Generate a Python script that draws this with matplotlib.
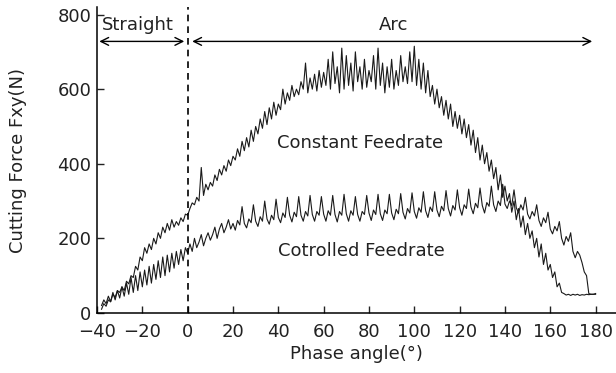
import numpy as np
import matplotlib
matplotlib.use("Agg")
import matplotlib.pyplot as plt

plt.rcParams['font.family'] = ['DejaVu Sans']

angle = list(range(-38, 181))

constant_feed = [
    10, 25, 18, 35, 30, 50, 42, 60, 55,
    70, 60, 85, 78, 100, 95, 125, 115, 150, 140,
    175, 160, 185, 170, 200, 185, 215, 200, 230, 215,
    240, 222, 250, 230, 245, 235, 255, 245, 265, 262,
    280, 295, 290, 310, 300, 390, 315, 345, 330, 350,
    340, 370, 355, 385, 370, 395, 380, 410, 395, 420,
    410, 440, 420, 460, 435, 470, 445, 490, 460, 500,
    480, 520, 495, 540, 505, 550, 520, 565, 530, 560,
    545, 600, 560, 590, 570, 610, 580, 600, 585, 620,
    600, 670, 590, 630, 600, 640, 595, 650, 605, 645,
    610, 680, 600, 700, 615, 660, 590, 710, 600, 690,
    610, 670, 595, 700, 620, 660, 600, 680, 605, 650,
    620, 690, 600, 710, 610, 670, 590, 660, 605, 680,
    600, 650, 610, 690, 620, 660, 615, 700, 620, 715,
    610, 680, 600, 670, 590, 650, 580, 610, 560, 600,
    550, 580, 530, 570, 520, 560, 500, 540, 495, 530,
    480, 520, 470, 505, 450, 490, 430, 470, 410, 450,
    400, 430, 380, 410, 360, 390, 330, 370, 310, 340,
    300, 320, 270, 300, 250, 280, 230, 260, 210, 240,
    200, 220, 175, 200, 150, 185, 130, 160, 115, 130,
    95, 110, 70, 80, 55, 52, 48, 50, 47, 50,
    48, 50, 47, 49, 48, 50, 49, 50, 50, 52,
]

controlled_feed = [
    20, 35, 25, 45, 30, 55, 35, 60, 40,
    70, 45, 80, 50, 95, 55, 100, 60, 110, 70,
    115, 75, 125, 80, 130, 90, 140, 95, 150, 100,
    155, 110, 160, 120, 165, 130, 170, 140, 175, 160,
    185, 165, 200, 175, 190, 210, 180, 200, 215, 195,
    210, 230, 200, 225, 240, 215, 230, 250, 225, 240,
    222, 248, 236, 285, 240, 228, 252, 242, 290, 246,
    232, 258, 246, 300, 252, 238, 262, 250, 305, 256,
    242, 268, 256, 310, 262, 244, 270, 258, 312, 262,
    246, 272, 260, 315, 264, 246, 272, 262, 312, 265,
    246, 274, 262, 315, 264, 244, 272, 262, 318, 266,
    246, 274, 262, 312, 264, 246, 272, 264, 315, 268,
    248, 276, 264, 318, 266, 248, 276, 266, 318, 268,
    250, 278, 266, 320, 270, 252, 280, 268, 322, 272,
    254, 282, 270, 325, 274, 256, 284, 272, 325, 276,
    258, 286, 274, 328, 280, 260, 288, 276, 330, 282,
    262, 290, 280, 332, 284, 266, 294, 282, 335, 288,
    268, 296, 286, 340, 290, 272, 300, 288, 345, 292,
    280, 300, 288, 330, 282, 268, 290, 276, 310, 265,
    252, 272, 260, 290, 248, 232, 255, 242, 270, 225,
    212, 232, 220, 245, 200, 182, 205, 192, 215, 165,
    148, 165, 155, 135, 110, 100, 52, 50, 50, 50,
]

x_ticks = list(range(-40, 181, 20))
y_ticks = list(range(0, 801, 200))

fig = plt.figure(figsize=(6.16, 3.73), dpi=100)
ax = fig.add_axes([0.1575, 0.161, 0.8425, 0.82])

ax.plot(angle, constant_feed, color='#1a1a1a', lw=0.8)
ax.plot(angle, controlled_feed, color='#1a1a1a', lw=0.8)

ax.axvline(0, color='black', lw=1.2, ls=(0, (4, 3)))

ax.set_xlim(-40, 189)
ax.set_ylim(0, 820)
ax.set_xticks(x_ticks)
ax.set_yticks(y_ticks)
ax.tick_params(direction='in', length=5, width=1, labelsize=13, colors='#222222')
ax.tick_params(axis='x', pad=7)
ax.tick_params(axis='y', pad=4)
for s in ['top', 'right']:
    ax.spines[s].set_visible(False)
for s in ['left', 'bottom']:
    ax.spines[s].set_linewidth(1.1)

ax.set_xlabel('Phase angle(°)', fontsize=13, color='#222222', labelpad=3)
ax.set_ylabel('Cutting Force Fxy(N)', fontsize=13, color='#222222', labelpad=22)

arrow = dict(arrowstyle='<->', color='black', lw=1.0, shrinkA=0, shrinkB=0,
             mutation_scale=14)
ax.annotate('', xy=(-39, 728), xytext=(-1.5, 728), arrowprops=arrow)
ax.annotate('', xy=(2, 728), xytext=(178.5, 728), arrowprops=arrow)

ax.text(-22, 772, 'Straight', ha='center', va='center', fontsize=13, color='#222222')
ax.text(91, 772, 'Arc', ha='center', va='center', fontsize=13, color='#222222')
ax.text(76, 456, 'Constant Feedrate', ha='center', va='center', fontsize=13, color='#222222')
ax.text(76.5, 166, 'Cotrolled Feedrate', ha='center', va='center', fontsize=13, color='#222222')

fig.savefig('out.png', dpi=100)
